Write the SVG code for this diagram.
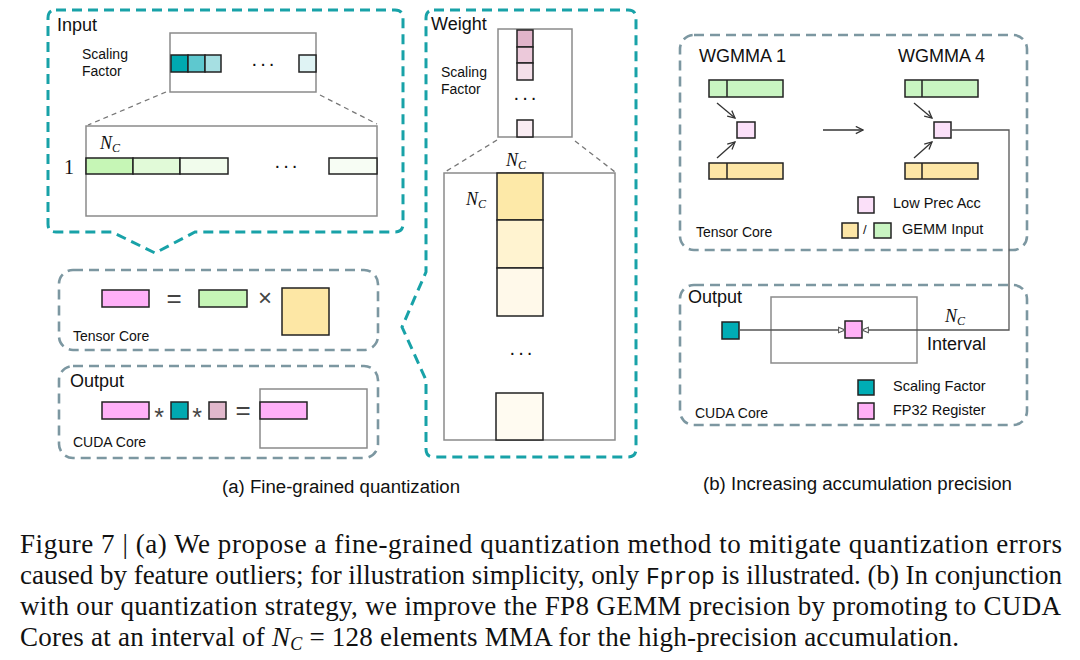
<svg xmlns="http://www.w3.org/2000/svg" width="1080" height="660" viewBox="0 0 1080 660">
<defs>
<style>
.sans{font-family:"Liberation Sans",Arial,sans-serif;fill:#111}
.serif{font-family:"Liberation Serif","Times New Roman",serif;fill:#111}
.math{font-family:"Liberation Serif","Times New Roman",serif;font-style:italic;fill:#111}
.dots{font-family:"Liberation Sans",Arial,sans-serif;font-size:20px;letter-spacing:2px;fill:#111}
.op{font-family:"Liberation Sans",Arial,sans-serif;fill:#444}
.tealdash{fill:none;stroke:#18a2a8;stroke-width:3;stroke-dasharray:10 6}
.graydash{fill:none;stroke:#7c97a1;stroke-width:2.6;stroke-dasharray:10 6}
.frame{fill:#fff;stroke:#8a8a8a;stroke-width:1.5}
.zoomline{fill:none;stroke:#777;stroke-width:1.3;stroke-dasharray:5 4}
.cell{stroke:#222;stroke-width:1.5}
.conn{fill:none;stroke:#555;stroke-width:1.3}
.arr{fill:none;stroke:#333;stroke-width:1.3}
</style>
<marker id="vhead" viewBox="0 0 10 10" refX="9" refY="5" markerWidth="9" markerHeight="9" markerUnits="userSpaceOnUse" orient="auto">
<path d="M1,1 L9,5 L1,9" fill="none" stroke="#333" stroke-width="1.4"/>
</marker>
<marker id="tri" viewBox="0 0 10 10" refX="9" refY="5" markerWidth="8" markerHeight="8" markerUnits="userSpaceOnUse" orient="auto">
<path d="M1,1.5 L9,5 L1,8.5 Z" fill="#fff" stroke="#555" stroke-width="1.3"/>
</marker>
</defs>
<rect width="1080" height="660" fill="#fff"/>

<!-- (a) Input -->
<g id="input">
<path class="tealdash" d="M56,10 L395,10 Q403,10 403,18 L403,224 Q403,232 395,232 L195,232 L155,253 L112,232 L56,232 Q48,232 48,224 L48,18 Q48,10 56,10 Z"/>
<text class="sans" x="57" y="31" font-size="18">Input</text>
<text class="sans" x="82" y="59" font-size="14">Scaling</text>
<text class="sans" x="82" y="76" font-size="14">Factor</text>
<rect class="frame" x="170" y="33" width="146" height="59"/>
<rect class="cell" x="171" y="55" width="17" height="17" fill="#00a9b0"/>
<rect class="cell" x="188" y="55" width="17" height="17" fill="#5ec8cf"/>
<rect class="cell" x="205" y="55" width="16" height="17" fill="#a6dfe2"/>
<rect class="cell" x="299" y="55" width="17" height="17" fill="#dff3f4"/>
<text class="dots" x="264" y="70" text-anchor="middle">···</text>
<line class="zoomline" x1="166" y1="92" x2="88" y2="125"/>
<line class="zoomline" x1="320" y1="95" x2="377" y2="124"/>
<rect class="frame" x="86" y="126" width="291" height="90"/>
<text class="math" x="100" y="149" font-size="18">N<tspan font-size="12" dy="3">C</tspan></text>
<text class="serif" x="64" y="174" font-size="20">1</text>
<rect class="cell" x="86" y="158" width="47" height="16" fill="#c6f6b6"/>
<rect class="cell" x="133" y="158" width="47" height="16" fill="#e1fad8"/>
<rect class="cell" x="180" y="158" width="48" height="16" fill="#f1fcec"/>
<rect class="cell" x="329" y="158" width="48" height="16" fill="#f7fdf4"/>
<text class="dots" x="287" y="172" text-anchor="middle">···</text>
</g>

<!-- (a) Tensor Core -->
<g id="tensor-core-a">
<rect class="graydash" x="59" y="270" width="319" height="80" rx="14"/>
<rect class="cell" x="102" y="290" width="47" height="17" fill="#ffb0f8"/>
<text class="op" x="174" y="307" font-size="26" text-anchor="middle">=</text>
<rect class="cell" x="199" y="290" width="48" height="17" fill="#c6f6b6"/>
<text class="op" x="265" y="306" font-size="24" text-anchor="middle">×</text>
<rect class="cell" x="282" y="288" width="47" height="47" fill="#fde7a5"/>
<text class="sans" x="73" y="341" font-size="14">Tensor Core</text>
</g>

<!-- (a) Output -->
<g id="output-a">
<rect class="graydash" x="59" y="366" width="319" height="92" rx="14"/>
<text class="sans" x="70" y="387" font-size="18">Output</text>
<rect class="cell" x="102" y="402" width="47" height="17" fill="#ffb0f8"/>
<text class="op" x="159" y="426" font-size="25" text-anchor="middle">*</text>
<rect class="cell" x="171" y="402" width="17" height="17" fill="#00a9b0"/>
<text class="op" x="197" y="426" font-size="25" text-anchor="middle">*</text>
<rect class="cell" x="209" y="402" width="17" height="17" fill="#e1b8cc"/>
<text class="op" x="243" y="419" font-size="26" text-anchor="middle">=</text>
<rect class="frame" x="260" y="389" width="107" height="59"/>
<rect class="cell" x="260" y="402" width="47" height="17" fill="#ffb0f8"/>
<text class="sans" x="73" y="447" font-size="14">CUDA Core</text>
</g>

<!-- (a) Weight -->
<g id="weight">
<path class="tealdash" d="M434,10 L628,10 Q636,10 636,18 L636,449 Q636,457 628,457 L434,457 Q426,457 426,449 L426,380 L402,327 L426,272 L426,18 Q426,10 434,10 Z"/>
<text class="sans" x="431" y="30" font-size="18">Weight</text>
<text class="sans" x="441" y="77" font-size="14">Scaling</text>
<text class="sans" x="441" y="94" font-size="14">Factor</text>
<rect class="frame" x="498" y="29" width="74" height="108"/>
<rect class="cell" x="517" y="30" width="16" height="17" fill="#e1b4ca"/>
<rect class="cell" x="517" y="47" width="16" height="16" fill="#ecc9da"/>
<rect class="cell" x="517" y="63" width="16" height="17" fill="#f4dfe9"/>
<rect class="cell" x="517" y="120" width="16" height="17" fill="#f9ecf2"/>
<text class="dots" x="526" y="104" text-anchor="middle">···</text>
<line class="zoomline" x1="497" y1="140" x2="445" y2="172"/>
<line class="zoomline" x1="575" y1="141" x2="615" y2="172"/>
<rect class="frame" x="444" y="173" width="171" height="267"/>
<text class="math" x="506" y="166" font-size="18">N<tspan font-size="12" dy="3">C</tspan></text>
<text class="math" x="466" y="205" font-size="18">N<tspan font-size="12" dy="3">C</tspan></text>
<rect class="cell" x="497" y="173" width="46" height="47" fill="#fde9a8"/>
<rect class="cell" x="497" y="220" width="46" height="48" fill="#fff3d0"/>
<rect class="cell" x="497" y="268" width="46" height="48" fill="#fff9ea"/>
<rect class="cell" x="496" y="393" width="47" height="47" fill="#fffbf1"/>
<text class="dots" x="522" y="359" text-anchor="middle">···</text>
</g>

<!-- (b) Tensor Core -->
<g id="tensor-core-b">
<rect class="graydash" x="680" y="35" width="347" height="215" rx="14"/>
<text class="sans" x="699" y="62" font-size="18">WGMMA 1</text>
<text class="sans" x="898" y="62" font-size="18">WGMMA 4</text>
<rect class="cell" x="709" y="80" width="74" height="17" fill="#c9f5c2"/>
<line class="cell" x1="727" y1="80" x2="727" y2="97"/>
<rect class="cell" x="737" y="122" width="18" height="16" fill="#fbe0f9"/>
<rect class="cell" x="709" y="163" width="74" height="16" fill="#fde6a6"/>
<line class="cell" x1="727" y1="163" x2="727" y2="179"/>
<rect class="cell" x="905" y="80" width="73" height="17" fill="#c9f5c2"/>
<line class="cell" x1="922" y1="80" x2="922" y2="97"/>
<rect class="cell" x="934" y="122" width="17" height="16" fill="#fbe0f9"/>
<rect class="cell" x="905" y="163" width="73" height="16" fill="#fde6a6"/>
<line class="cell" x1="922" y1="163" x2="922" y2="179"/>
<rect class="cell" x="858" y="197" width="16" height="16" fill="#fbe0f9" stroke-width="1.2"/>
<text class="sans" x="893" y="208" font-size="14.5">Low Prec Acc</text>
<rect class="cell" x="842" y="223" width="16" height="15" fill="#fde6a6" stroke-width="1.2"/>
<text class="sans" x="863" y="234" font-size="13">/</text>
<rect class="cell" x="874" y="223" width="17" height="15" fill="#c9f5c2" stroke-width="1.2"/>
<text class="sans" x="902" y="234" font-size="14.5">GEMM Input</text>
<text class="sans" x="696" y="237" font-size="14">Tensor Core</text>
</g>

<!-- (b) Output -->
<g id="output-b">
<rect class="graydash" x="680" y="285" width="347" height="140" rx="14"/>
<text class="sans" x="688" y="303" font-size="18">Output</text>
<rect class="frame" x="771" y="297" width="146" height="66" fill="none"/>
<rect class="cell" x="722" y="322" width="17" height="17" fill="#00adb5"/>
<rect class="cell" x="845" y="321" width="17" height="17" fill="#ffb0f6"/>
<text class="math" x="945" y="322" font-size="18">N<tspan font-size="12" dy="3">C</tspan></text>
<text class="sans" x="927" y="350" font-size="18">Interval</text>
<rect class="cell" x="858" y="380" width="16" height="15" fill="#00adb5" stroke-width="1.2"/>
<text class="sans" x="893" y="391" font-size="14.5">Scaling Factor</text>
<rect class="cell" x="858" y="403" width="16" height="16" fill="#ffb0f6" stroke-width="1.2"/>
<text class="sans" x="893" y="415" font-size="14.5">FP32 Register</text>
<text class="sans" x="695" y="418" font-size="14">CUDA Core</text>
</g>

<!-- connectors -->
<g id="connectors">
<line class="arr" x1="717" y1="103" x2="735" y2="118" marker-end="url(#vhead)"/>
<line class="arr" x1="717" y1="158" x2="735" y2="142" marker-end="url(#vhead)"/>
<line class="arr" x1="914" y1="103" x2="932" y2="118" marker-end="url(#vhead)"/>
<line class="arr" x1="914" y1="158" x2="932" y2="142" marker-end="url(#vhead)"/>
<line class="arr" x1="823" y1="130" x2="863" y2="130" marker-end="url(#vhead)"/>
<line class="conn" x1="739" y1="330" x2="845" y2="330" marker-end="url(#tri)"/>
<polyline class="conn" points="951,130 1009,130 1009,330 862,330" marker-end="url(#tri)"/>
</g>

<!-- captions -->
<text class="sans" x="222" y="493" font-size="18" textLength="238" lengthAdjust="spacingAndGlyphs">(a) Fine-grained quantization</text>
<text class="sans" x="703" y="490" font-size="18" textLength="309" lengthAdjust="spacingAndGlyphs">(b) Increasing accumulation precision</text>

<g id="figure-caption">
<text class="serif" x="20" y="553" font-size="27" textLength="1042" lengthAdjust="spacing">Figure 7 | (a) We propose a fine-grained quantization method to mitigate quantization errors</text>
<text class="serif" x="20" y="584" font-size="27" textLength="1042" lengthAdjust="spacing">caused by feature outliers; for illustration simplicity, only <tspan font-family="'Liberation Mono','Courier New',monospace" font-size="23">Fprop</tspan> is illustrated. (b) In conjunction</text>
<text class="serif" x="20" y="615" font-size="27" textLength="1041" lengthAdjust="spacing">with our quantization strategy, we improve the FP8 GEMM precision by promoting to CUDA</text>
<text class="serif" x="20" y="646" font-size="27" textLength="939" lengthAdjust="spacing">Cores at an interval of <tspan font-style="italic">N</tspan><tspan font-style="italic" font-size="18" dy="4">C</tspan><tspan dy="-4"> = 128 elements MMA for the high-precision accumulation.</tspan></text>
</g>
</svg>
